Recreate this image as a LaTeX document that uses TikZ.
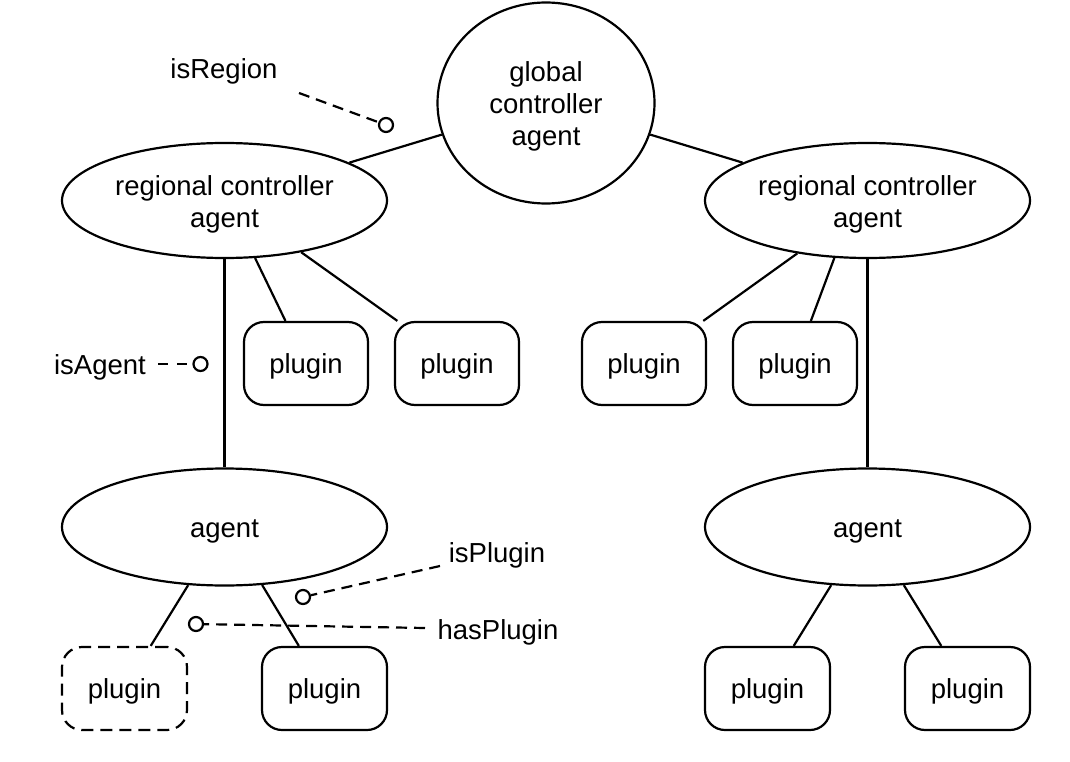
\documentclass[tikz,border=0pt]{standalone}
\usepackage{fontspec}
\setmainfont{Liberation Sans}
\usetikzlibrary{shapes.geometric}
\begin{document}
\begin{tikzpicture}[x=1pt,y=-1pt,
  every node/.style={font=\fontsize{27.5}{32}\selectfont, align=center, text height=26.5pt},
  conn/.style={line width=2.2pt},
  dconn/.style={line width=2.2pt, dash pattern=on 11pt off 7pt},
  ell/.style={ellipse, draw, line width=2.2pt, inner sep=0pt, minimum width=325pt, minimum height=115pt},
  plug/.style={rectangle, draw, line width=2.2pt, rounded corners=20pt, minimum width=124pt, minimum height=83pt, inner sep=0pt},
  dot/.style={circle, draw, line width=2.2pt, minimum size=14pt, inner sep=0pt, text height=0pt}
]
\useasboundingbox (0,0) rectangle (1070,762);

% main nodes
\node[ellipse, draw, line width=2.2pt, inner sep=0pt, minimum width=217pt, minimum height=201pt, text height=91.5pt] (g) at (546,103) {global\\controller\\agent};
\node[ell, text height=60.5pt] (lr) at (224.5,200.5) {regional controller\\agent};
\node[ell, text height=60.5pt] (rr) at (867.5,200.5) {regional controller\\agent};
\node[ell, minimum height=117pt] (la) at (224.5,527) {agent};
\node[ell, minimum height=117pt] (ra) at (867.5,527) {agent};

\node[plug] (p1) at (306,363.5) {plugin};
\node[plug] (p2) at (457,363.5) {plugin};
\node[plug] (p3) at (644,363.5) {plugin};
\node[plug] (p4) at (795,363.5) {plugin};
\node[plug, minimum width=125pt, dash pattern=on 12pt off 7pt] (pd) at (124.5,688.5) {plugin};
\node[plug, minimum width=125pt] (p5) at (324.5,688.5) {plugin};
\node[plug, minimum width=125pt] (p6) at (767.5,688.5) {plugin};
\node[plug, minimum width=125pt] (p7) at (967.5,688.5) {plugin};

% connectors
\draw[conn] (g) -- (lr);
\draw[conn] (g) -- (rr);
\draw[conn] (lr) -- (la);
\draw[conn] (rr) -- (ra);
\draw[conn] (lr.-62) -- (p1);
\draw[conn] (lr.-34) -- (p2);
\draw[conn] (rr.-143) -- (p3);
\draw[conn] (rr.-120) -- (p4);
\draw[conn] (la.-122) -- (pd);
\draw[conn] (la.-57) -- (p5);
\draw[conn] (ra.-122) -- (p6);
\draw[conn] (ra.-58) -- (p7);

% annotations
\node (tR) at (224,68) {isRegion};
\node[dot] (cR) at (386,125) {};
\coordinate (sR) at (299,93);
\draw[dconn] (sR) -- (cR);

\node (tA) at (100,364) {isAgent};
\node[dot] (cA) at (200.5,364) {};
\coordinate (sA) at (158,364);
\draw[line width=2.2pt, dash pattern=on 10pt off 9pt] (sA) -- (cA);

\node (tP) at (497,552) {isPlugin};
\node[dot] (cP) at (303,597) {};
\coordinate (sP) at (440,566);
\draw[dconn] (sP) -- (cP);

\node (tH) at (498,629) {hasPlugin};
\node[dot] (cH) at (196,624) {};
\coordinate (sH) at (425,628);
\draw[dconn] (sH) -- (cH);
\end{tikzpicture}
\end{document}
